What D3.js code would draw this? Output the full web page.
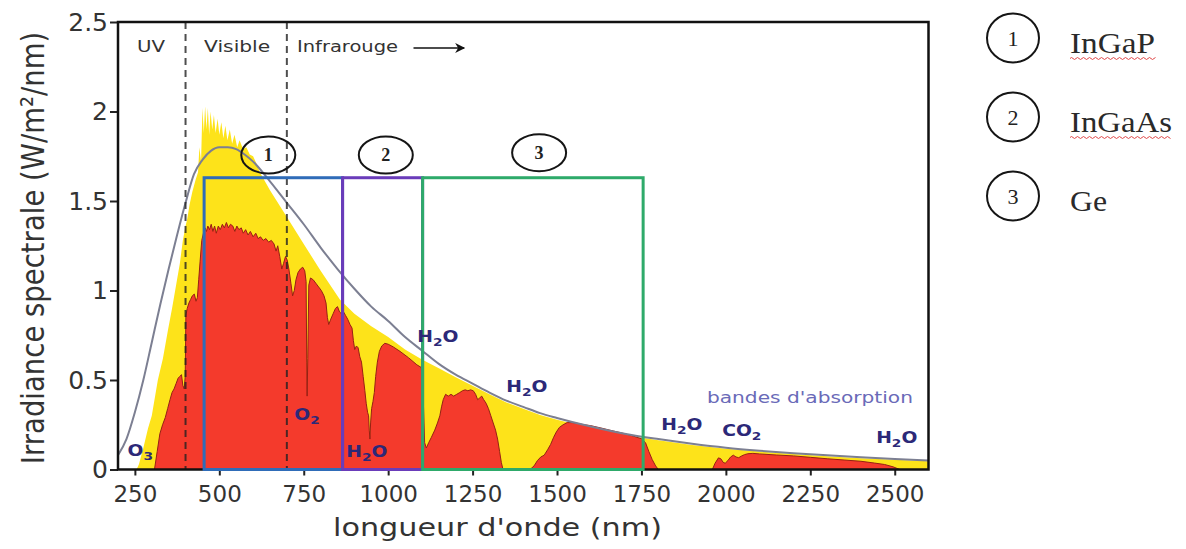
<!DOCTYPE html>
<html><head><meta charset="utf-8">
<script src="https://cdn.jsdelivr.net/npm/d3@7/dist/d3.min.js"></script>
<style>body{margin:0;background:#fff;} svg{display:block;}</style>
</head><body><svg id="c" width="1186" height="549"></svg>
<script>
// ---- data ----
const extraNm  = [200,255,262,275,289,300,318,333,348,360,373,383,392,400,405,412,420,430,437,441,446,450,454,458,462,466,470,474,479,484,489,495,500,506,512,518,524,531,538,545,553,560,570,580,590,600,610,620,650,700,750,800,857,900,950,1000,1050,1100,1150,1200,1250,1300,1350,1400,1450,1500,1600,1700,1800,1900,2000,2100,2200,2300,2400,2500,2600];
const extraVal = [0,0,0.03,0.12,0.23,0.3,0.5,0.62,0.78,0.9,1.04,1.15,1.28,1.36,1.4,1.48,1.55,1.62,1.66,1.8,1.72,2.02,1.88,2.03,1.9,2.02,1.87,2.0,1.9,1.98,1.88,1.96,1.87,1.94,1.85,1.92,1.84,1.9,1.82,1.87,1.8,1.84,1.79,1.8,1.76,1.75,1.71,1.66,1.56,1.41,1.26,1.11,0.95,0.87,0.8,0.74,0.67,0.615,0.565,0.515,0.468,0.42,0.375,0.34,0.305,0.278,0.232,0.193,0.163,0.137,0.116,0.1,0.086,0.074,0.063,0.054,0.046];

const groundNm  = [300,308,316,324,332,340,347,354,360,366,372,378,383,388,392,396,399,401,405,410,415,420,426,431,435,439,443,448,453,458,462,466,471,476,481,486,491,497,503,509,515,521,527,533,540,546,552,558,565,571,578,585,592,600,608,615,622,630,638,646,654,662,668,673,679,685,690,696,701,706,712,717,722,727,733,740,747,753,757,759,760,762,765,770,778,786,794,802,810,816,820,824,830,837,844,850,856,862,868,874,880,887,893,897,901,906,911,916,921,926,931,935,939,942,944,946,948,951,955,959,963,968,974,981,990,1000,1015,1035,1060,1085,1098,1103,1108,1113,1120,1128,1138,1146,1153,1158,1163,1170,1178,1186,1194,1203,1212,1220,1228,1236,1244,1252,1259,1265,1271,1277,1283,1290,1297,1304,1311,1318,1324,1330,1335,1340,1420,1432,1442,1452,1462,1472,1481,1490,1498,1507,1518,1530,1545,1560,1580,1600,1630,1660,1690,1720,1750,1762,1772,1782,1792,1800,1960,1968,1978,1985,1992,1998,2006,2014,2022,2030,2038,2046,2055,2065,2080,2100,2150,2200,2250,2300,2350,2400,2440,2470,2495,2515];
const groundVal = [0,0,0.1,0.2,0.25,0.29,0.34,0.39,0.43,0.45,0.48,0.51,0.52,0.53,0.47,0.45,0.52,0.86,0.9,0.93,0.95,0.97,0.98,0.94,0.96,1.06,1.16,1.28,1.32,1.35,1.33,1.36,1.34,1.37,1.33,1.36,1.32,1.36,1.34,1.37,1.35,1.38,1.35,1.37,1.36,1.33,1.36,1.34,1.35,1.32,1.34,1.31,1.33,1.3,1.32,1.29,1.3,1.28,1.29,1.27,1.28,1.26,1.22,1.25,1.19,1.12,1.15,1.19,1.17,1.12,1.04,0.97,1.0,1.06,1.1,1.12,1.13,1.11,1.05,0.6,0.41,0.62,1.03,1.07,1.06,1.04,1.02,1.0,0.97,0.93,0.85,0.81,0.84,0.87,0.9,0.91,0.88,0.87,0.88,0.86,0.84,0.81,0.79,0.72,0.67,0.69,0.68,0.63,0.6,0.52,0.44,0.37,0.32,0.3,0.22,0.17,0.26,0.34,0.38,0.43,0.52,0.6,0.66,0.69,0.705,0.7,0.685,0.66,0.625,0.585,0.57,0.45,0.15,0.12,0.15,0.18,0.22,0.26,0.3,0.35,0.39,0.42,0.41,0.42,0.41,0.42,0.43,0.44,0.445,0.44,0.445,0.44,0.42,0.39,0.4,0.41,0.39,0.37,0.34,0.3,0.26,0.22,0.17,0.1,0.04,0,0,0.02,0.05,0.07,0.08,0.11,0.14,0.18,0.21,0.235,0.25,0.262,0.262,0.258,0.25,0.245,0.232,0.218,0.205,0.19,0.172,0.15,0.1,0.055,0.02,0,0,0.035,0.065,0.06,0.04,0.035,0.05,0.07,0.08,0.07,0.066,0.075,0.083,0.088,0.09,0.087,0.081,0.076,0.068,0.06,0.053,0.046,0.036,0.028,0.015,0];

const bbNm  = [200,225,250,275,300,325,350,375,400,425,450,475,500,525,550,575,600,650,700,750,800,850,900,950,1000,1050,1100,1150,1200,1250,1300,1350,1400,1450,1500,1600,1700,1800,1900,2000,2100,2200,2300,2400,2500,2600];
const bbVal = [0.08,0.17,0.32,0.5,0.71,0.92,1.12,1.31,1.49,1.65,1.73,1.78,1.8,1.8,1.79,1.76,1.72,1.61,1.49,1.37,1.24,1.12,1.01,0.91,0.83,0.74,0.665,0.59,0.53,0.48,0.43,0.385,0.35,0.315,0.288,0.24,0.2,0.17,0.144,0.122,0.105,0.091,0.079,0.068,0.058,0.05];

const xTicks = [250,500,750,1000,1250,1500,1750,2000,2250,2500];
const yTicks = [0,0.5,1,1.5,2,2.5];
const yTickLabels = ["0","0.5","1","1.5","2","2.5"];

const regionLines = [400,700];
const regionLabels = ["UV","Visible","Infrarouge"];
const regionLabelNm = [256,455,730];
const regionLabelLen = [28,66,101];
const arrowNm = [1075,1225];

const cellStart = [455,865,1102];
const cellEnd   = [865,1102,1755];
const cellTop = 1.63;
const cellColors = ["#2f6cb8","#6a3cba","#2eaa6a"];
const cellNums = ["1","2","3"];
const cellBadgeNm = [645,993,1447];
const cellBadgeVal = [1.757,1.757,1.77];
const cellNames = ["InGaP","InGaAs","Ge"];
const cellNameLen = [85,102,37];
const cellSpell = [true,true,false];

const absText = ["O3","O2","H2O","H2O","H2O","H2O","CO2","H2O"];
const absNm   = [228,722,876,1086,1350,1809,1989,2445];
const absVal  = [0.075,0.277,0.07,0.712,0.433,0.22,0.187,0.148];
const bandNote = "bandes d'absorption";
const bandNm = 1944, bandVal = 0.372;

// ---- chart ----
const svg = d3.select("#c");
const x = d3.scaleLinear().domain([200,2600]).range([118,928.5]);
const y = d3.scaleLinear().domain([0,2.5]).range([469.5,22]);

const defs = svg.append("defs");
defs.append("marker").attr("id","ah").attr("viewBox","0 0 10 10").attr("refX",9).attr("refY",5)
  .attr("markerWidth",17).attr("markerHeight",10).attr("markerUnits","userSpaceOnUse").attr("orient","auto")
  .append("path").attr("d","M0,0 L10,5 L0,10 L3,5 Z").attr("fill","#111");

const extra = extraNm.map((d,i)=>[d,extraVal[i]]);
const ground = groundNm.map((d,i)=>[d,groundVal[i]]);
const bb = bbNm.map((d,i)=>[d,bbVal[i]]);

const area = d3.area().x(d=>x(d[0])).y0(y(0)).y1(d=>y(d[1]));
const line = d3.line().x(d=>x(d[0])).y(d=>y(d[1]));

svg.append("path").datum(extra).attr("d",area).attr("fill","#fde31a");
svg.append("path").datum(ground).attr("d",area).attr("fill","#f43a2c");
svg.append("path").datum(ground).attr("d",line).attr("fill","none").attr("stroke","#962014").attr("stroke-width",1);
svg.append("path").datum(bb).attr("d",d3.line().curve(d3.curveMonotoneX).x(d=>x(d[0])).y(d=>y(d[1])))
  .attr("fill","none").attr("stroke","#7c7f92").attr("stroke-width",2);

// region dashed lines
svg.selectAll(".rl").data(regionLines).join("line")
  .attr("x1",d=>x(d)).attr("x2",d=>x(d)).attr("y1",y(2.5)).attr("y2",y(0))
  .attr("stroke","#222").attr("stroke-opacity",0.8).attr("stroke-width",2).attr("stroke-dasharray","7,5");

svg.selectAll(".rt").data(regionLabels).join("text")
  .attr("x",(d,i)=>x(regionLabelNm[i])).attr("y",y(2.332))
  .attr("textLength",(d,i)=>regionLabelLen[i]).attr("lengthAdjust","spacingAndGlyphs")
  .attr("font-family","DejaVu Sans").attr("font-size",16).attr("fill","#333").text(d=>d);

svg.append("line").attr("x1",x(arrowNm[0])).attr("x2",x(arrowNm[1])).attr("y1",y(2.355)).attr("y2",y(2.355))
  .attr("stroke","#111").attr("stroke-width",1.6).attr("marker-end","url(#ah)");

// axes
const gx = svg.append("g").attr("transform",`translate(0,${y(0)})`)
  .call(d3.axisBottom(x).tickValues(xTicks).tickSize(6).tickPadding(10).tickFormat(d3.format("d")));
gx.select(".domain").remove();
gx.selectAll("line").attr("stroke","#222").attr("stroke-width",2);
gx.selectAll("text").attr("font-family","DejaVu Sans").attr("font-size",23).attr("fill","#333");

const gy = svg.append("g").attr("transform",`translate(${x(200)},0)`)
  .call(d3.axisLeft(y).tickValues(yTicks).tickSize(8).tickPadding(2).tickFormat((d,i)=>yTickLabels[i]));
gy.select(".domain").remove();
gy.selectAll("line").attr("stroke","#222").attr("stroke-width",2);
gy.selectAll("text").attr("font-family","DejaVu Sans").attr("font-size",25).attr("fill","#333");

// frame
svg.append("rect").attr("x",x(200)).attr("y",y(2.5)).attr("width",x(2600)-x(200)).attr("height",y(0)-y(2.5))
  .attr("fill","none").attr("stroke","#111").attr("stroke-width",2.5);

// cell boxes
svg.selectAll(".cb").data(cellStart).join("rect")
  .attr("x",(d,i)=>x(d)).attr("y",y(cellTop)).attr("width",(d,i)=>x(cellEnd[i])-x(d)).attr("height",y(0)-y(cellTop))
  .attr("fill","none").attr("stroke",(d,i)=>cellColors[i]).attr("stroke-width",3);

// badges
const badge = svg.selectAll(".bd").data(cellNums).join("g")
  .attr("transform",(d,i)=>`translate(${x(cellBadgeNm[i])},${y(cellBadgeVal[i])})`);
badge.append("ellipse").attr("rx",27).attr("ry",18.5).attr("fill","none").attr("stroke","#151515").attr("stroke-width",2);
badge.append("text").attr("text-anchor","middle").attr("y",6).attr("font-family","Liberation Serif")
  .attr("font-weight","bold").attr("font-size",18).attr("fill","#222").text(d=>d);

// absorption labels
absText.forEach((t,i)=>{
  const g = svg.append("g").attr("transform",`translate(${x(absNm[i])},${y(absVal[i])}) scale(1.25,1)`);
  const tx = g.append("text").attr("font-family","DejaVu Sans").attr("font-weight","bold").attr("font-size",15).attr("fill","#2c2878");
  let sub=false;
  for (const ch of t){
    if (/\d/.test(ch)){ tx.append("tspan").attr("font-size",11).attr("dy",4).text(ch); sub=true; }
    else { const s=tx.append("tspan").text(ch); if(sub){ s.attr("dy",-4); sub=false; } }
  }
});
svg.append("text").attr("x",x(bandNm)).attr("y",y(bandVal)).attr("font-family","DejaVu Sans").attr("font-size",15)
  .attr("fill","#6a6ab8").attr("textLength",206).attr("lengthAdjust","spacingAndGlyphs").text(bandNote);

// axis titles
svg.append("text").attr("transform",`translate(44,248) rotate(-90) scale(1,1.18)`).attr("text-anchor","middle")
  .attr("font-family","DejaVu Sans").attr("font-size",27.5).attr("fill","#333")
  .text("Irradiance spectrale (W/m²/nm)");
svg.append("text").attr("x",497.5).attr("y",536).attr("text-anchor","middle")
  .attr("font-family","DejaVu Sans").attr("font-size",24).attr("fill","#333")
  .attr("textLength",329).attr("lengthAdjust","spacingAndGlyphs").text("longueur d'onde (nm)");

// legend
const lg = svg.selectAll(".lg").data(cellNames).join("g").attr("transform",(d,i)=>`translate(1013,${38+i*79})`);
lg.append("ellipse").attr("rx",26).attr("ry",24.5).attr("fill","none").attr("stroke","#151515").attr("stroke-width",2);
lg.append("text").attr("text-anchor","middle").attr("y",8).attr("font-family","Liberation Serif").attr("font-size",22)
  .attr("fill","#222").text((d,i)=>cellNums[i]);
lg.append("text").attr("x",57).attr("y",15).attr("font-family","Liberation Serif").attr("font-size",30).attr("fill","#2a2a2a")
  .attr("textLength",(d,i)=>cellNameLen[i]).attr("lengthAdjust","spacingAndGlyphs").text(d=>d);
lg.filter((d,i)=>cellSpell[i]).append("path")
  .attr("d",(d,i)=>{ let p="M57,20.5"; for(let k=57;k<57+cellNameLen[i];k+=3){ p+=` L${k+1.5},${(k/3)%2?19.5:21.5}`;} return p; })
  .attr("fill","none").attr("stroke","#e04848").attr("stroke-width",1);
</script></body></html>
